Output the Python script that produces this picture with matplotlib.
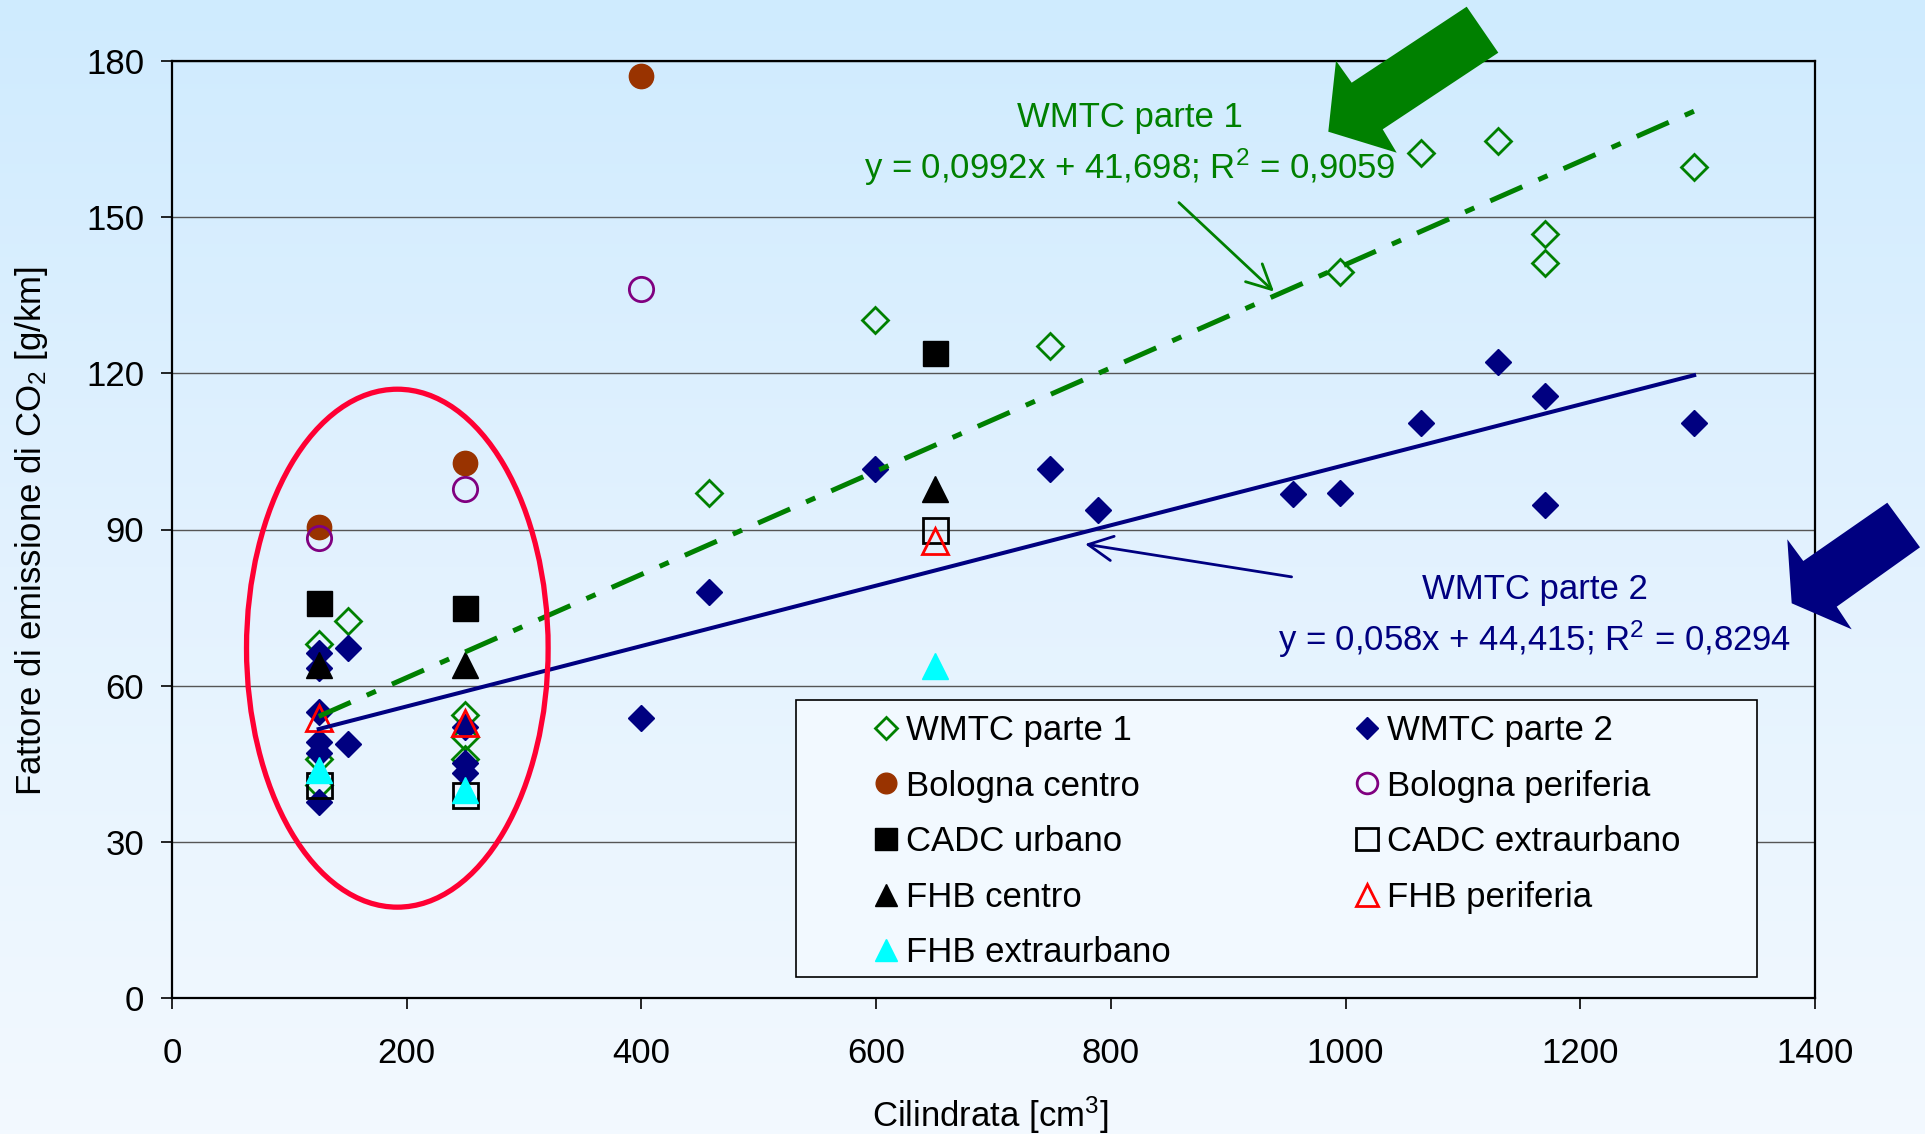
import numpy as np
import matplotlib
matplotlib.use("Agg")
import matplotlib.pyplot as plt
from matplotlib.patches import Ellipse, Polygon, Rectangle
from matplotlib.colors import LinearSegmentedColormap

plt.rcParams['font.family'] = ['Liberation Sans', 'DejaVu Sans']
plt.rcParams['mathtext.fontset'] = 'custom'
plt.rcParams['mathtext.rm'] = 'Liberation Sans'
plt.rcParams['mathtext.it'] = 'Liberation Sans:italic'

# dati
wmtc1_x = [125, 125, 125, 150, 250, 250, 250, 458, 599, 748, 995, 1064, 1130, 1170, 1170, 1297]
wmtc1_y = [68.1, 46.0, 41.0, 72.4, 54.4, 50.2, 46.0, 97.0, 130.2, 125.2, 139.5, 162.4, 164.6, 146.8, 141.2, 159.7]
wmtc2_x = [125, 125, 125, 125, 125, 125, 150, 150, 250, 250, 250, 400, 458, 599, 748, 789,
           955, 995, 1064, 1130, 1170, 1170, 1297]
wmtc2_y = [66.2, 63.3, 55.0, 49.2, 47.0, 37.7, 67.3, 48.8, 52.1, 45.1, 43.2, 53.8, 77.9, 101.6, 101.7, 93.7,
           96.9, 97.1, 110.5, 122.2, 115.6, 94.8, 110.4]
cicli_x = [125, 250, 400]
bologna_centro = [90.4, 102.8, 177.2]
bologna_periferia = [88.3, 97.8, 136.2]
prove_x = [125, 250, 650]
cadc_urbano = [75.9, 75.0, 124.0]
cadc_extra = [40.9, 39.0, 90.0]
fhb_centro = [64.0, 64.0, 97.8]
fhb_periferia = [53.8, 52.9, 87.8]
fhb_extra = [43.8, 40.0, 63.8]

# rette di regressione (da Excel)
trend1 = (0.0992, 41.698, 0.9059)
trend2 = (0.058, 44.415, 0.8294)

W, H = 1925, 1134
fig = plt.figure(figsize=(W / 100, H / 100), dpi=100)

# sfondo sfumato
bg = fig.add_axes([0, 0, 1, 1], zorder=-10)
grad = np.linspace(0, 1, 256).reshape(-1, 1)
cmap = LinearSegmentedColormap.from_list("sf", ["#CFEBFE", "#E3F2FE", "#F3F9FF"])
bg.imshow(grad, aspect='auto', cmap=cmap, extent=[0, 1, 0, 1])
bg.axis('off')

ax = fig.add_axes([172 / W, 1 - 998 / H, 1643 / W, 937 / H], zorder=1)
ax.set_facecolor('none')

fs = 25
h1, = ax.plot(wmtc1_x, wmtc1_y, ls='none', marker='D', ms=13, mfc='none', mec='#008000', mew=2)
h2, = ax.plot(wmtc2_x, wmtc2_y, ls='none', marker='D', ms=13, mfc='#000080', mec='#000080', mew=1)
h3, = ax.plot(cicli_x, bologna_centro, ls='none', marker='o', ms=17.5, mfc='#993300', mec='#993300')
h4, = ax.plot(cicli_x, bologna_periferia, ls='none', marker='o', ms=17.5, mfc='none', mec='#800080', mew=2)
h5, = ax.plot(prove_x, cadc_urbano, ls='none', marker='s', ms=18, mfc='black', mec='black')
h6, = ax.plot(prove_x, cadc_extra, ls='none', marker='s', ms=18, mfc='none', mec='black', mew=2)
h7, = ax.plot(prove_x, fhb_centro, ls='none', marker='^', ms=19, mfc='black', mec='black')
h8, = ax.plot(prove_x, fhb_periferia, ls='none', marker='^', ms=19, mfc='none', mec='#FF0000', mew=2)
h9, = ax.plot(prove_x, fhb_extra, ls='none', marker='^', ms=19, mfc='#00FFFF', mec='#00FFFF')

# linee di tendenza
xx1 = np.array([min(wmtc1_x), max(wmtc1_x)])
ax.plot(xx1, trend1[0] * xx1 + trend1[1], color='#008000', lw=3.6, ls=(0, (7, 3.5, 2, 3.5)), zorder=3)
xx2 = np.array([min(wmtc2_x), max(wmtc2_x)])
ax.plot(xx2, trend2[0] * xx2 + trend2[1], color='#000080', lw=2.9, zorder=3)

# ellisse rossa
ax.add_patch(Ellipse((192, 67.2), 257, 99.5, fill=False, ec='#FF0033', lw=3.8, zorder=4))

ax.set_xlim(0, 1400)
ax.set_ylim(0, 180)
ax.set_xticks(np.arange(0, 1401, 200))
ax.set_yticks(np.arange(0, 181, 30))
ax.tick_params(axis='both', labelsize=fs, length=8, width=1.2, direction='out')
ax.tick_params(axis='y', pad=12)
ax.tick_params(axis='x', pad=20)
ax.yaxis.grid(True, color='#555555', lw=1)
ax.set_axisbelow(True)
for s in ax.spines.values():
    s.set_color('black')
    s.set_linewidth(1.6)

fig.text(32 / W, 1 - 531 / H, "Fattore di emissione di CO$_2$ [g/km]", rotation=90,
         ha='center', va='center', fontsize=fs)
fig.text(990 / W, 1 - 1115 / H, "Cilindrata [cm$^3$]", ha='center', va='center', fontsize=fs)


def eq(t):
    return ("y = %sx + %s; R$^2$ = %s" % (t[0], t[1], t[2])).replace('.', ',')


# etichette delle rette
ax.text(816, 169.2, "WMTC parte 1", color='#008000', fontsize=fs, ha='center', va='center')
ax.text(816, 159.6, eq(trend1), color='#008000', fontsize=fs, ha='center', va='center')
ax.text(1161, 78.5, "WMTC parte 2", color='#000080', fontsize=fs, ha='center', va='center')
ax.text(1161, 69.0, eq(trend2), color='#000080', fontsize=fs, ha='center', va='center')

ax.annotate("", xy=(939, 135.7), xytext=(858, 152.8),
            arrowprops=dict(arrowstyle='->,head_length=0.8,head_width=0.4', color='#008000',
                            lw=2, mutation_scale=22, shrinkA=0, shrinkB=0))
ax.annotate("", xy=(778, 87.2), xytext=(954, 80.9),
            arrowprops=dict(arrowstyle='->,head_length=0.8,head_width=0.4', color='#000080',
                            lw=2, mutation_scale=22, shrinkA=0, shrinkB=0))


# frecce grandi (coordinate pixel della figura)
def px(pts):
    return [(x / W, 1 - y / H) for x, y in pts]


green_arrow = [(1466.7, 6.7), (1498.3, 52.7), (1382.7, 129.3), (1396.7, 152.7),
               (1328.3, 131.7), (1336, 60.7), (1351.7, 82.7)]
blue_arrow = [(1887.3, 502.7), (1920, 547.3), (1836.7, 606.7), (1851.7, 629.3),
              (1791.7, 603.3), (1787.3, 539.3), (1803.3, 561)]
fig.patches.append(Polygon(px(green_arrow), closed=True, fc='#008000', ec='none',
                           transform=fig.transFigure, zorder=5))
fig.patches.append(Polygon(px(blue_arrow), closed=True, fc='#000080', ec='none',
                           transform=fig.transFigure, zorder=5))

# legenda
ax.add_patch(Rectangle((796 / W, 1 - 977 / H), 961 / W, 277 / H, transform=fig.transFigure,
                       fc='#F2F9FF', ec='black', lw=1.2, zorder=4, clip_on=False))
handles = [h1, h3, h5, h7, h9, h2, h4, h6, h8]
labels = ["WMTC parte 1", "Bologna centro", "CADC urbano", "FHB centro", "FHB extraurbano",
          "WMTC parte 2", "Bologna periferia", "CADC extraurbano", "FHB periferia"]
leg = ax.legend(handles, labels, ncol=2, loc='upper left', bbox_to_anchor=(872 / W, 1 - 714 / H),
                bbox_transform=fig.transFigure, frameon=False, fontsize=fs, borderpad=0,
                borderaxespad=0, handlelength=0.8, handletextpad=0.18, columnspacing=5.25,
                labelspacing=0.65, markerscale=0.85, numpoints=1)
leg.set_zorder(6)

fig.savefig("out.png", dpi=100)
